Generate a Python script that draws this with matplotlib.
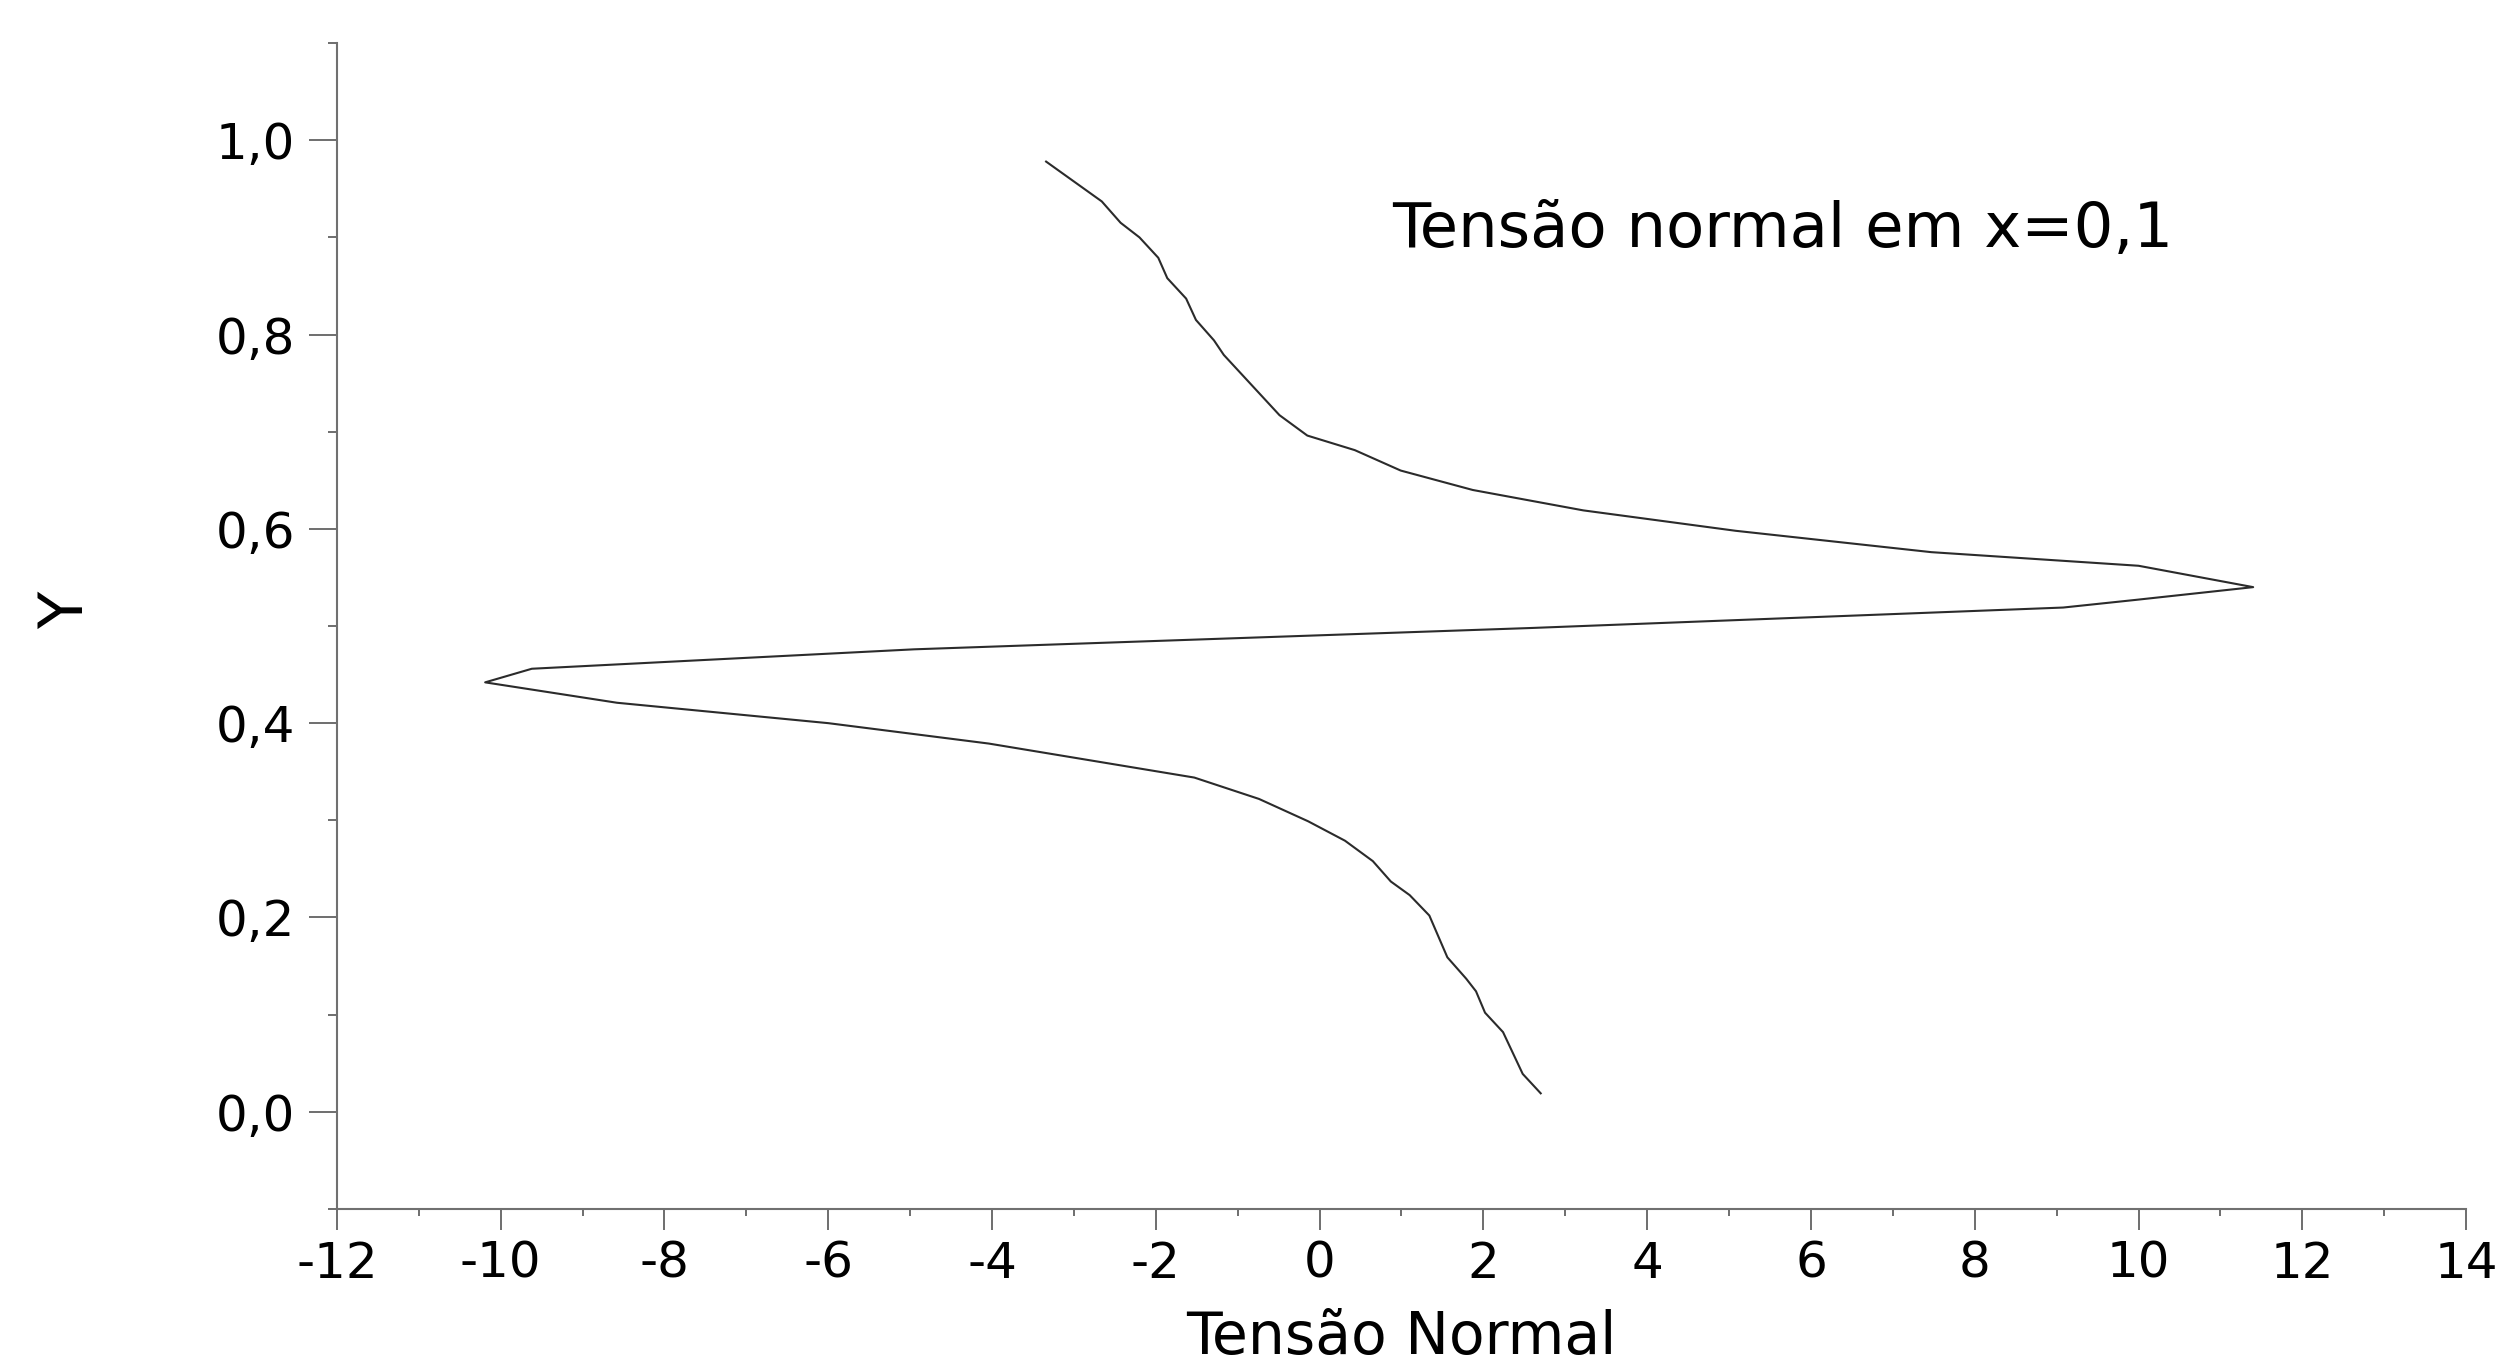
import matplotlib
matplotlib.use('Agg')
from matplotlib import pyplot as plt
from matplotlib.ticker import MultipleLocator

# normal stress profile at x=0,1
tensao = [-3.34, -2.66, -2.43, -2.20, -1.97, -1.86, -1.63, -1.51, -1.29, -1.17,
          -0.49, -0.15, 0.43, 0.99, 1.87, 3.22, 5.08, 7.47, 10.0, 11.40,
          9.98, 9.08, 2.60, -4.95, -9.62, -10.19, -8.58, -6.00, -4.04, -1.53,
          -0.74, -0.14, 0.31, 0.65, 0.87, 1.10, 1.34, 1.56, 1.79, 1.91,
          2.02, 2.24, 2.48, 2.70]
y = [0.978, 0.937, 0.915, 0.900, 0.879, 0.858, 0.837, 0.815, 0.794, 0.779,
     0.717, 0.696, 0.681, 0.660, 0.640, 0.619, 0.598, 0.576, 0.562, 0.540,
     0.527, 0.519, 0.498, 0.476, 0.456, 0.442, 0.421, 0.400, 0.379, 0.344,
     0.322, 0.299, 0.279, 0.258, 0.237, 0.223, 0.202, 0.159, 0.137, 0.124,
     0.102, 0.082, 0.039, 0.019]

xticks = list(range(-12, 15, 2))
xtick_labels = [str(v) for v in xticks]
yticks = [0.0, 0.2, 0.4, 0.6, 0.8, 1.0]
ytick_labels = ['0,0', '0,2', '0,4', '0,6', '0,8', '1,0']

plt.rcParams['axes.unicode_minus'] = False
plt.rcParams['font.family'] = ['DejaVu Sans']

fig = plt.figure(figsize=(25.2, 13.71), dpi=100)
ax = fig.add_axes([0.1337, 0.1182, 0.8449, 0.8504])

ax.plot(tensao, y, color='#2b2b2b', lw=1.5)

ax.set_xlim(-12, 14)
ax.set_ylim(-0.1, 1.1)

ax.set_xticks(xticks)
ax.set_xticklabels(xtick_labels)
ax.set_yticks(yticks)
ax.set_yticklabels(ytick_labels)
ax.xaxis.set_minor_locator(MultipleLocator(1))
ax.yaxis.set_minor_locator(MultipleLocator(0.1))

for side in ('top', 'right'):
    ax.spines[side].set_visible(False)
for side in ('left', 'bottom'):
    ax.spines[side].set_color('#707070')
    ax.spines[side].set_linewidth(1.5)

ax.tick_params(axis='x', which='major', length=15, width=1.2, color='#555555',
               labelsize=36, pad=7)
ax.tick_params(axis='x', which='minor', length=5, width=1.2, color='#555555')
ax.tick_params(axis='y', which='major', length=20, width=1.2, color='#555555',
               labelsize=36, pad=10)
ax.tick_params(axis='y', which='minor', length=6.5, width=1.2, color='#555555')

ax.set_xlabel('Tensão Normal', fontsize=42)
ax.xaxis.set_label_coords(0.5, -0.086)
ax.set_ylabel('Y', fontsize=44)
ax.yaxis.set_label_coords(-0.113, 0.513)

ax.text(0.88, 0.89, 'Tensão normal em x=0,1', fontsize=45, va='baseline')

fig.savefig('out.png', dpi=100)
